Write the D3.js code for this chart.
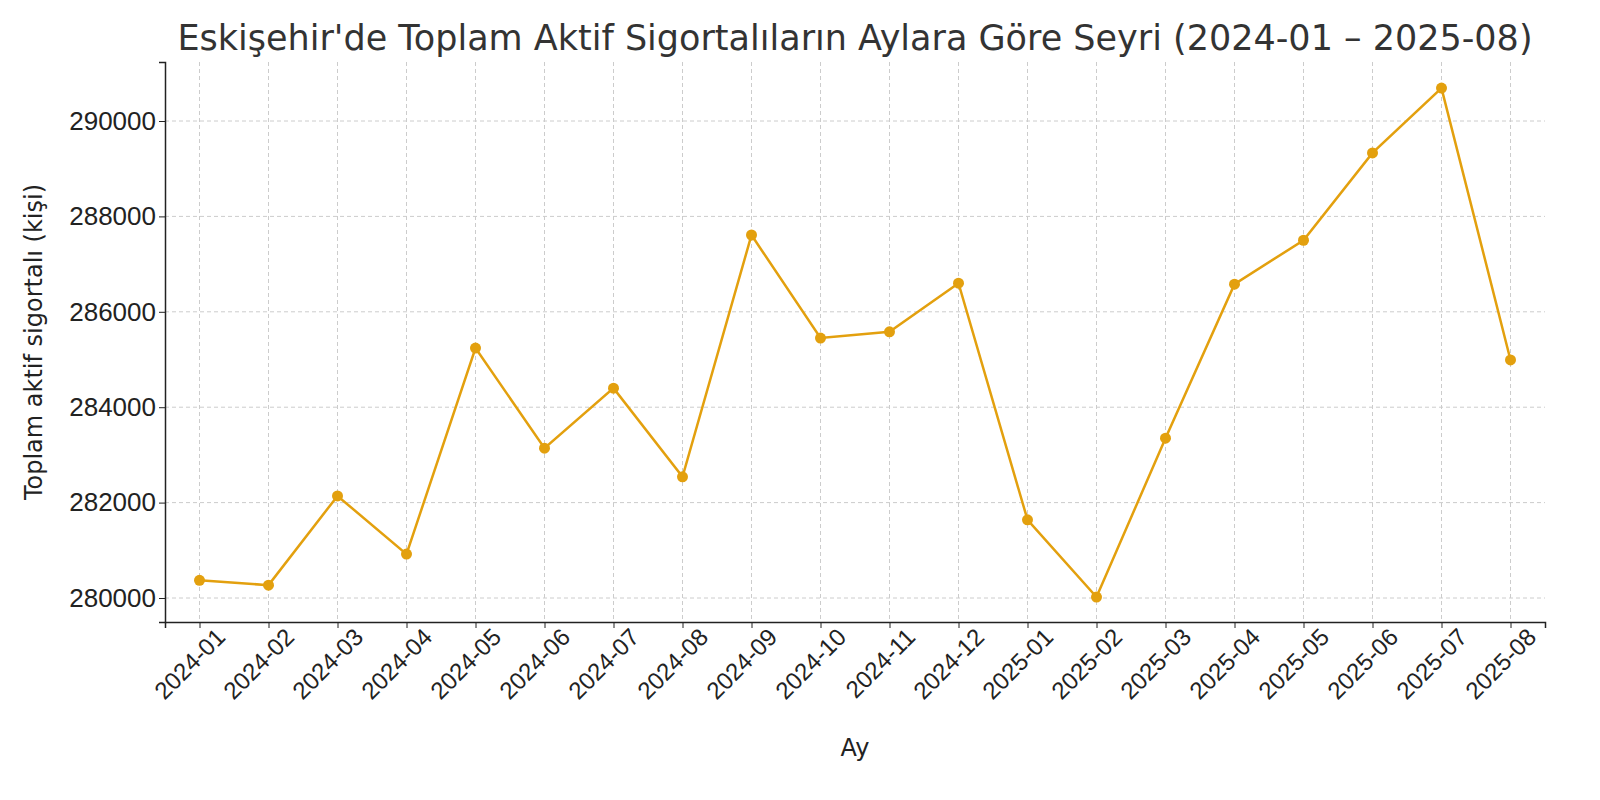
<!DOCTYPE html>
<html>
<head>
<meta charset="utf-8">
<script src="https://cdn.jsdelivr.net/npm/d3@7"></script>
<style>
  body { margin: 0; background: #fff; }
  svg { font-family: "DejaVu Sans", sans-serif; }
</style>
</head>
<body>
<svg id="chart" width="1600" height="800"></svg>
<script>
// months and totals
const months = ['2024-01','2024-02','2024-03','2024-04','2024-05','2024-06','2024-07','2024-08','2024-09','2024-10',
  '2024-11','2024-12','2025-01','2025-02','2025-03','2025-04','2025-05','2025-06','2025-07','2025-08'];
const totals = [280370, 280270, 282140, 280920, 285240, 283140, 284400, 282540, 287610, 285450,
  285580, 286600, 281640, 280020, 283350, 286580, 287500, 289330, 290690, 284990];
const yTicks = [280000, 282000, 284000, 286000, 288000, 290000];

const svg = d3.select('#chart');
const margin = { left: 165, right: 55, top: 62, bottom: 178 };
const width = 1600 - margin.left - margin.right;
const height = 800 - margin.top - margin.bottom;
const g = svg.append('g').attr('transform', `translate(${margin.left},${margin.top})`);

const x = d3.scalePoint().domain(months).range([0, width]).padding(0.5);
const y = d3.scaleLinear().domain([279497, 291237]).range([height, 0]);

// grid
g.append('g').selectAll('line').data(months).join('line')
  .attr('x1', d => x(d)).attr('x2', d => x(d)).attr('y1', 0).attr('y2', height)
  .attr('stroke', '#ccc').attr('stroke-dasharray', '4,3');
g.append('g').selectAll('line').data(yTicks).join('line')
  .attr('x1', 0).attr('x2', width).attr('y1', d => y(d)).attr('y2', d => y(d))
  .attr('stroke', '#ccc').attr('stroke-dasharray', '4,3');

// axes
const xAxis = g.append('g').attr('transform', `translate(0,${height})`)
  .call(d3.axisBottom(x).tickSizeOuter(0).tickSize(6));
xAxis.selectAll('text')
  .style('font-size', '24px').attr('fill', '#222')
  .attr('text-anchor', 'end')
  .attr('dx', '0.3em').attr('dy', '0.9em')
  .attr('transform', 'rotate(-45)');
const yAxis = g.append('g')
  .call(d3.axisLeft(y).tickValues(yTicks).tickFormat(d3.format('d')).tickSizeOuter(0).tickSize(6));
yAxis.selectAll('text').style('font-size', '26px').attr('fill', '#222');
[xAxis, yAxis].forEach(a => {
  a.select('.domain').attr('stroke', '#222').attr('stroke-width', 1.5);
  a.selectAll('.tick line').attr('stroke', '#222');
});

// line + markers
const color = '#E3A00E';
g.append('path').datum(totals)
  .attr('fill', 'none').attr('stroke', color).attr('stroke-width', 2.5)
  .attr('d', d3.line().x((d, i) => x(months[i])).y(d => y(d)));
g.selectAll('circle.pt').data(totals).join('circle')
  .attr('class', 'pt')
  .attr('cx', (d, i) => x(months[i])).attr('cy', d => y(d))
  .attr('r', 5.5).attr('fill', color);

// labels
svg.append('text').attr('x', 855).attr('y', 50).attr('text-anchor', 'middle')
  .style('font-size', '35px').attr('fill', '#333')
  .text("Eskişehir'de Toplam Aktif Sigortalıların Aylara Göre Seyri (2024-01 – 2025-08)");
svg.append('text').attr('x', 855).attr('y', 756).attr('text-anchor', 'middle')
  .style('font-size', '24px').attr('fill', '#222').text('Ay');
svg.append('text').attr('transform', 'translate(42,342) rotate(-90)')
  .attr('text-anchor', 'middle').style('font-size', '24px').attr('fill', '#222')
  .text('Toplam aktif sigortalı (kişi)');
</script>
</body>
</html>
